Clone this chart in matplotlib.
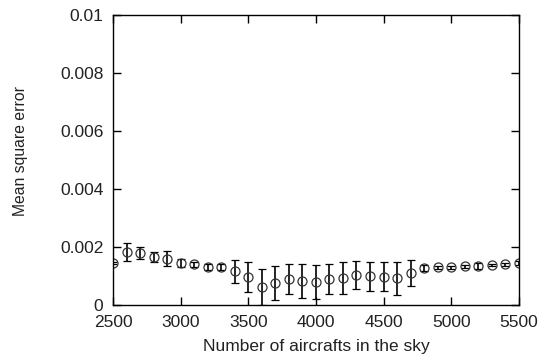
import matplotlib
matplotlib.use('Agg')
import matplotlib.pyplot as plt

# Number of aircrafts and the measured mean square error
aircrafts = list(range(2500, 5501, 100))
mse = [0.00145, 0.00183, 0.0018, 0.00165, 0.0016, 0.00145, 0.0014, 0.0013, 0.0013, 0.00117,
       0.00097, 0.00062, 0.00076, 0.0009, 0.00083, 0.0008, 0.0009, 0.00093, 0.00103, 0.001,
       0.00097, 0.00093, 0.0011, 0.00128, 0.0013, 0.0013, 0.00133, 0.00135, 0.00138, 0.0014,
       0.00145]
mse_err = [0.00003, 0.0003, 0.0002, 0.00017, 0.00027, 0.00015, 0.0001, 0.0001, 0.0001, 0.0004,
           0.00053, 0.00063, 0.0006, 0.00053, 0.00057, 0.00058, 0.00053, 0.00055, 0.00048, 0.0005,
           0.0005, 0.00057, 0.00045, 0.0001, 0.00005, 0.00005, 0.00005, 0.0001, 0.00005, 0.00005,
           0.00007]

plt.rcParams['font.family'] = ['Liberation Sans', 'DejaVu Sans']

fig = plt.figure(figsize=(5.45, 3.61), dpi=100)
ax = fig.add_axes([0.2073, 0.155, 0.7447, 0.803])

ax.errorbar(aircrafts, mse, yerr=mse_err, fmt='o', mfc='none', mec='#333333',
            ms=6.5, mew=0.9, ecolor='black', elinewidth=1.2, capsize=3, capthick=1.2)

ax.set_xlim(2500, 5500)
ax.set_ylim(0, 0.01)
ax.set_xticks([2500, 3000, 3500, 4000, 4500, 5000, 5500])
ax.set_yticks([0, 0.002, 0.004, 0.006, 0.008, 0.01])
ax.set_yticklabels(['0', '0.002', '0.004', '0.006', '0.008', '0.01'])
ax.tick_params(direction='in', length=6, width=1, top=True, right=True,
               labelsize=12.5, labelcolor='#222222')
ax.tick_params(axis='x', pad=7)
ax.tick_params(axis='y', pad=7)

ax.set_xlabel('Number of aircrafts in the sky', fontsize=12.5, color='#222222', labelpad=6.5)
ax.set_ylabel('Mean square error', fontsize=11.3, color='#222222')
ax.yaxis.set_label_coords(-0.209, 0.531)

for s in ax.spines.values():
    s.set_linewidth(1)

fig.savefig('out.png', dpi=100)
